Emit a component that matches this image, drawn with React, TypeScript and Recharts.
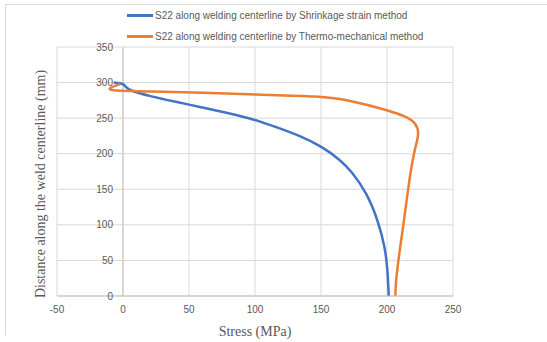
import React from 'react';
import {
  LineChart,
  Line,
  XAxis,
  YAxis,
  CartesianGrid,
  ReferenceLine,
  Label,
} from 'recharts';

// stress (MPa) vs distance along the weld centerline (mm)
const shrinkageStress = [-7, 0, 2, 5, 20, 40, 60, 80, 100, 115, 133, 151, 164, 173, 185, 193, 198.5, 200.5, 201.3];
const shrinkageDist = [300, 299, 294, 289, 281, 273, 265, 257, 248, 238, 226, 210, 192, 176, 144, 107, 69, 36, 0];

const thermoStress = [-2, -13, -6, 9, 30, 58, 100, 150, 172, 200, 215, 222, 224.5, 221.5, 219.5, 217.4, 213.6, 211.6, 210, 208.5, 207.3, 206.6, 206.3];
const thermoDist = [298, 291, 288.6, 288, 287, 286, 283, 281, 275, 261.5, 252, 243, 229, 210, 191, 170, 116, 90, 69, 48, 30, 15, 0];

const xTicks = [-50, 0, 50, 100, 150, 200, 250];
const yTicks = [0, 50, 100, 150, 200, 250, 300, 350];

const seriesNames = [
  'S22 along welding centerline by Shrinkage strain method',
  'S22 along welding centerline by Thermo-mechanical method',
];
const seriesColors = ['#4472C4', '#ED7D31'];

const toPoints = (xs: number[], ys: number[]) => xs.map((x, i) => ({ x, y: ys[i] }));
const shrinkageData = toPoints(shrinkageStress, shrinkageDist);
const thermoData = toPoints(thermoStress, thermoDist);

const W = 547;
const H = 342;
const margin = { top: 47, right: 94, left: 56, bottom: 0 };
const Y_AXIS_W = 1;
const plotLeft = margin.left + Y_AXIS_W;
const plotW = W - plotLeft - margin.right;
const X_MIN = xTicks[0];
const X_MAX = xTicks[xTicks.length - 1];
// y tick labels sit next to the x=0 line, like Excel does
const yLabelX = plotLeft + ((0 - X_MIN) / (X_MAX - X_MIN)) * plotW - 10;

const tickStyle = { fontSize: 10, fill: '#595959', fontFamily: 'Liberation Sans, Arial, sans-serif' };

const YTick = (props: any) => {
  const { y, payload } = props;
  return (
    <text x={yLabelX} y={y} textAnchor="end" dominantBaseline="central" {...tickStyle}>
      {payload.value}
    </text>
  );
};

const LegendBox = () => (
  <div
    style={{
      position: 'absolute',
      left: 127,
      top: 5,
      fontFamily: 'Liberation Sans, Arial, sans-serif',
      fontSize: 10,
      color: '#595959',
    }}
  >
    {seriesNames.map((name, i) => (
      <div key={name} style={{ display: 'flex', alignItems: 'center', height: 21 }}>
        <span style={{ display: 'inline-block', width: 26, height: 2.5, background: seriesColors[i], marginRight: 2 }} />
        <span>{name}</span>
      </div>
    ))}
  </div>
);

export default function App() {
  return (
    <div style={{ position: 'absolute', left: 0, top: 0, width: W, height: H, background: '#fff' }}>
      <div
        style={{
          position: 'absolute',
          left: 5,
          top: 4,
          width: W - 5,
          height: 330,
          borderTop: '1.5px solid #d9d9d9',
          borderLeft: '1.5px solid #d9d9d9',
        }}
      />
      <LineChart width={W} height={H} margin={margin}>
        <CartesianGrid stroke="#d9d9d9" strokeWidth={1} />
        <XAxis
          type="number"
          dataKey="x"
          domain={[X_MIN, X_MAX]}
          ticks={xTicks}
          allowDataOverflow
          height={46}
          tickLine={false}
          axisLine={{ stroke: '#bfbfbf' }}
          tick={tickStyle}
          tickMargin={4}
        >
          <Label
            value="Stress (MPa)"
            position="insideBottom"
            offset={6}
            style={{ fontSize: 14, fill: '#595959', fontFamily: 'Liberation Serif, Times New Roman, serif' }}
          />
        </XAxis>
        <YAxis
          type="number"
          dataKey="y"
          domain={[0, 350]}
          ticks={yTicks}
          width={Y_AXIS_W}
          tickLine={false}
          axisLine={false}
          tick={<YTick />}
        />
        <ReferenceLine x={0} stroke="#d0d0d0" strokeWidth={1.5} />
        <Line
          data={shrinkageData}
          dataKey="y"
          type="basis"
          stroke={seriesColors[0]}
          strokeWidth={2.5}
          dot={false}
          activeDot={false}
          isAnimationActive={false}
        />
        <Line
          data={thermoData}
          dataKey="y"
          type="basis"
          stroke={seriesColors[1]}
          strokeWidth={2.5}
          dot={false}
          activeDot={false}
          isAnimationActive={false}
        />
      </LineChart>
      <LegendBox />
      <div
        style={{
          position: 'absolute',
          left: 41,
          top: 184,
          transform: 'translate(-50%, -50%) rotate(-90deg)',
          whiteSpace: 'nowrap',
          fontSize: 14,
          color: '#595959',
          fontFamily: 'Liberation Serif, Times New Roman, serif',
        }}
      >
        Distance along the weld centerline (mm)
      </div>
    </div>
  );
}
